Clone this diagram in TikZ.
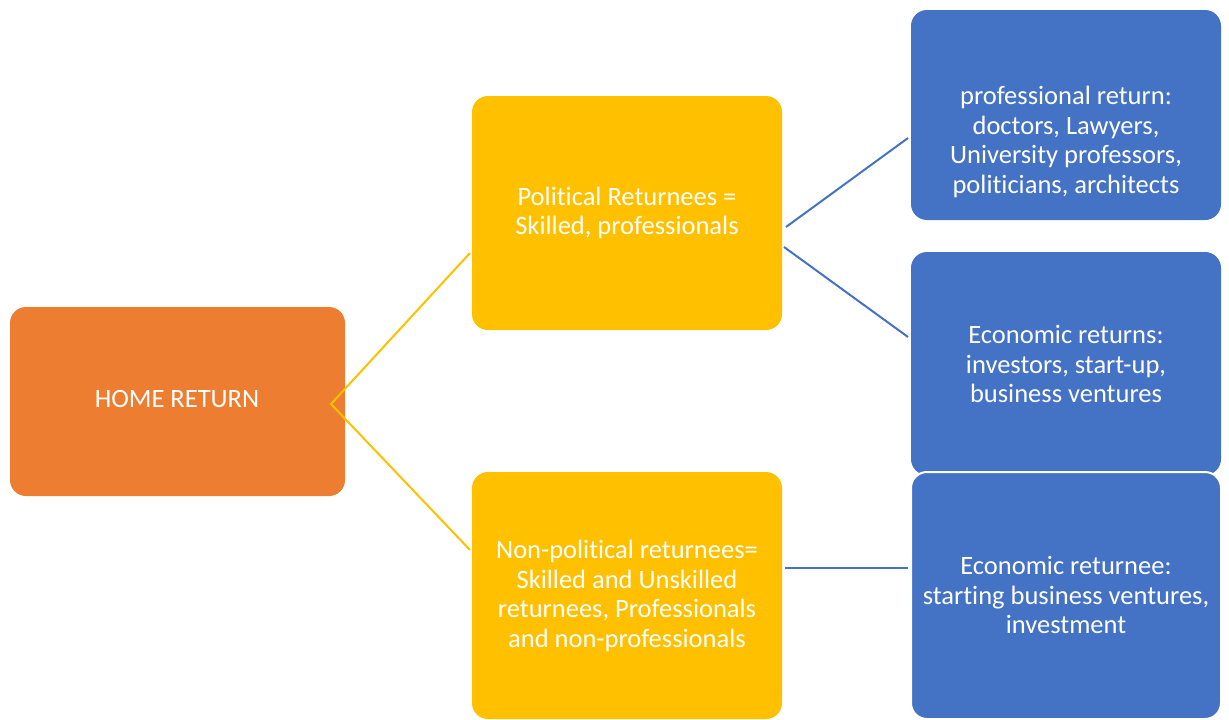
\documentclass[tikz,border=0pt]{standalone}
\usepackage{fontspec}
\setmainfont[Ligatures=NoCommon]{Carlito}
\definecolor{orng}{HTML}{ED7D31}
\definecolor{yell}{HTML}{FFC000}
\definecolor{blu}{HTML}{4472C4}
\begin{document}
\begin{tikzpicture}[x=1pt,y=-1pt,
  box/.style={rounded corners=16pt,draw=none},
  txt/.style={text=white,align=center,font=\fontsize{26.5}{29.4}\selectfont,inner sep=0pt},
  yline/.style={draw=yell,line width=2pt},
  bline/.style={draw=blu,line width=2pt}]
\useasboundingbox (0,0) rectangle (1229,720);
\clip (0,0) rectangle (1229,720);
% boxes
\path[box,fill=orng] (10,307) rectangle (345,496);
\path[box,fill=yell] (472,96) rectangle (782,330);
\path[box,fill=yell] (472,472) rectangle (782,719);
\path[box,fill=blu] (911,10) rectangle (1221,220);
\path[box,fill=blu] (911,252) rectangle (1221,475);
\path[box,fill=blu,draw=white,line width=2pt] (911,472) rectangle (1221,719);
% texts
\node[txt] (home) at (177,399) {HOME RETURN};
\node[txt] (pol) at (627,213) {Political Returnees =\\Skilled, professionals};
\node[txt] (npol) at (627,596) {Non-political returnees=\\Skilled and Unskilled\\returnees, Professionals\\and non-professionals};
\node[txt] (prof) at (1066,142) {professional return:\\doctors, Lawyers,\\University professors,\\politicians, architects};
\node[txt] (econ) at (1066,364) {Economic returns:\\investors, start-up,\\business ventures};
\node[txt] (econ2) at (1066,595) {Economic returnee:\\starting business ventures,\\investment};
% connector points
\coordinate (hj) at (331,404);
\coordinate (pin) at (470,253);
\coordinate (npin) at (470,550);
\coordinate (pout1) at (786,227);
\coordinate (pout2) at (784,247);
\coordinate (profin) at (908,138);
\coordinate (econin) at (908,337);
\coordinate (npout) at (785,568);
\coordinate (econ2in) at (908,568);
\draw[yline] (pin) -- (hj) -- (npin);
\draw[bline] (pout1) -- (profin);
\draw[bline] (pout2) -- (econin);
\draw[bline] (npout) -- (econ2in);
\end{tikzpicture}
\end{document}
